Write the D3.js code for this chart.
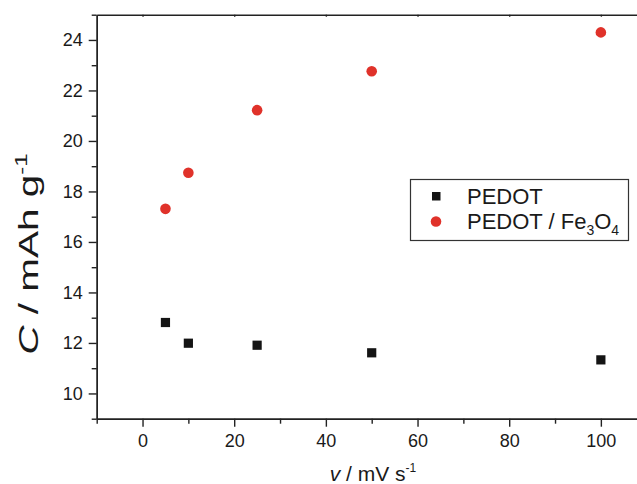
<!DOCTYPE html>
<html>
<head>
<meta charset="utf-8">
<script src="https://cdnjs.cloudflare.com/ajax/libs/d3/7.8.5/d3.min.js"></script>
<style>
body { margin: 0; background: #fff; }
text { font-family: "Liberation Sans", Arial, sans-serif; fill: #1a1a1a; }
</style>
</head>
<body>
<div id="chart"></div>
<script>
var scanRates = [5, 10, 25, 50, 100];
var pedot = [12.81, 11.99, 11.91, 11.61, 11.33];
var pedotFe = [17.31, 18.74, 21.22, 22.76, 24.30];
var xMajor = [0, 20, 40, 60, 80, 100];
var xMinor = [-10, 10, 30, 50, 70, 90, 110];
var yMajor = [10, 12, 14, 16, 18, 20, 22, 24];
var yMinor = [9, 11, 13, 15, 17, 19, 21, 23, 25];

var svg = d3.select("#chart").append("svg")
            .attr("width", 637)
            .attr("height", 484);

var x = d3.scaleLinear().domain([-10, 110]).range([96.7, 646.7]);
var y = d3.scaleLinear().domain([9, 25]).range([418.7, 14.7]);

var axisColor = "#222";

// bottom axis
var xAxis = svg.append("g").attr("transform", "translate(0," + y(9) + ")");
xAxis.call(d3.axisBottom(x).tickValues(xMajor).tickSize(8).tickPadding(8).tickSizeOuter(0));
xAxis.append("g").call(d3.axisBottom(x).tickValues(xMinor).tickSize(5).tickFormat("").tickSizeOuter(0));

// left axis
var yAxis = svg.append("g").attr("transform", "translate(" + x(-10) + ",0)");
yAxis.call(d3.axisLeft(y).tickValues(yMajor).tickSize(8).tickPadding(6).tickSizeOuter(0));
yAxis.append("g").call(d3.axisLeft(y).tickValues(yMinor).tickSize(5).tickFormat("").tickSizeOuter(0));

// top axis, small inner ticks
var topAxis = svg.append("g").attr("transform", "translate(0," + y(25) + ")");
topAxis.call(d3.axisBottom(x).tickValues(xMajor).tickSize(2).tickFormat("").tickSizeOuter(0));

svg.selectAll(".domain, .tick line")
   .attr("stroke", axisColor)
   .attr("stroke-width", 1.4);
svg.selectAll(".tick text")
   .style("font-size", "18px")
   .style("font-family", "'Liberation Sans', Arial, sans-serif")
   .attr("fill", "#1a1a1a");

// PEDOT squares
svg.selectAll("rect.pedot")
   .data(scanRates)
   .enter()
   .append("rect")
   .attr("class", "pedot")
   .attr("x", function(d) { return x(d) - 4.6; })
   .attr("y", function(d, i) { return y(pedot[i]) - 4.6; })
   .attr("width", 9.2)
   .attr("height", 9.2)
   .style("fill", "#141414");

// PEDOT / Fe3O4 circles
svg.selectAll("circle.fe")
   .data(scanRates)
   .enter()
   .append("circle")
   .attr("class", "fe")
   .attr("cx", function(d) { return x(d); })
   .attr("cy", function(d, i) { return y(pedotFe[i]); })
   .attr("r", 5.3)
   .style("fill", "#e0322a");

// legend
var legend = svg.append("g");
legend.append("rect")
      .attr("x", 410.5).attr("y", 179.5)
      .attr("width", 218).attr("height", 61)
      .style("fill", "#fff")
      .style("stroke", "#333")
      .style("stroke-width", 1.2);
legend.append("rect")
      .attr("x", 432).attr("y", 192)
      .attr("width", 8.5).attr("height", 8.5)
      .style("fill", "#141414");
legend.append("circle")
      .attr("cx", 436).attr("cy", 221.5).attr("r", 5.3)
      .style("fill", "#e0322a");
legend.append("text")
      .attr("x", 467).attr("y", 204)
      .style("font-size", "22px")
      .text("PEDOT");
var l2 = legend.append("text")
      .attr("x", 467).attr("y", 229)
      .style("font-size", "22px");
l2.append("tspan").text("PEDOT / Fe");
l2.append("tspan").attr("dy", 6).style("font-size", "14px").text("3");
l2.append("tspan").attr("dy", -6).text("O");
l2.append("tspan").attr("dy", 6).style("font-size", "14px").text("4");

// axis titles
var xt = svg.append("text")
      .attr("x", 373).attr("y", 481)
      .attr("text-anchor", "middle")
      .style("font-size", "21px");
xt.append("tspan").style("font-style", "italic").text("v");
xt.append("tspan").text(" / mV s");
xt.append("tspan").attr("dy", -9).style("font-size", "12px").text("-1");

var yt = svg.append("text")
      .attr("transform", "translate(38,254) rotate(-90) scale(1.5,1)")
      .attr("text-anchor", "middle")
      .style("font-size", "27px");
yt.append("tspan").style("font-style", "italic").text("C");
yt.append("tspan").text(" / mAh g");
yt.append("tspan").attr("dy", -11).style("font-size", "16px").text("-1");
</script>
</body>
</html>
